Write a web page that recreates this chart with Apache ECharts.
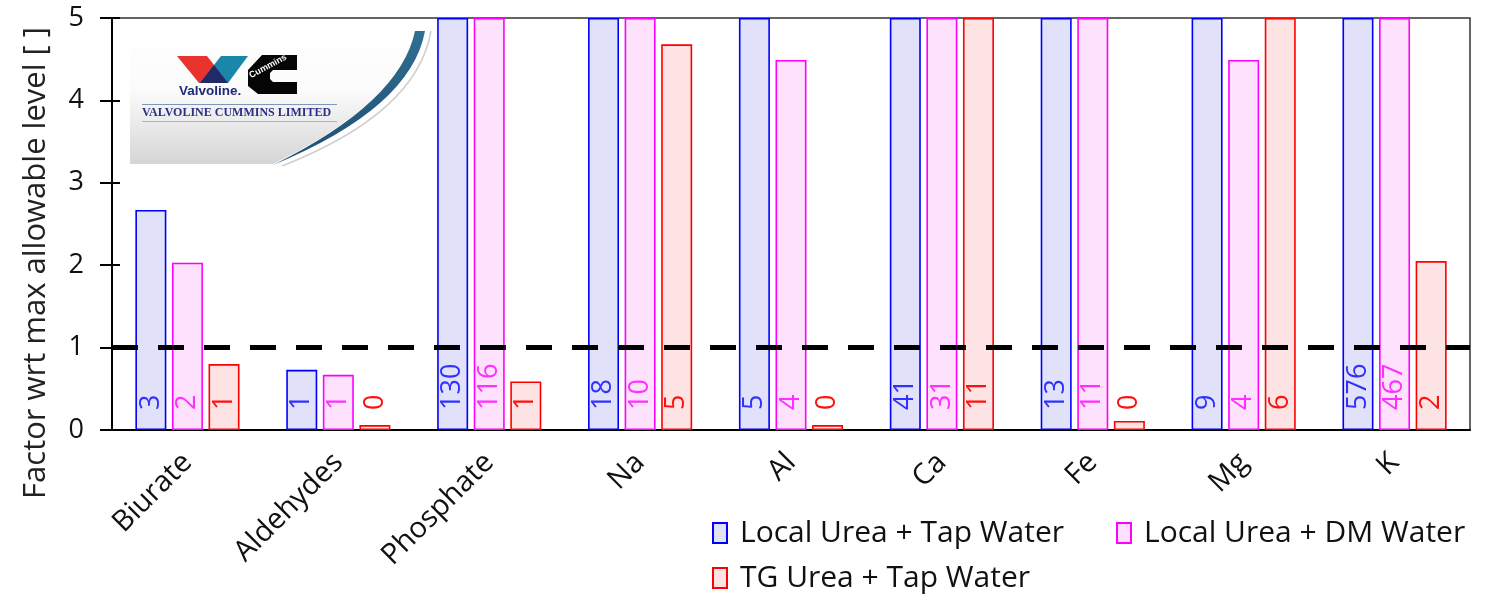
<!DOCTYPE html>
<html>
<head>
<meta charset="utf-8">
<script src="https://cdn.jsdelivr.net/npm/echarts@6/dist/echarts.min.js"></script>
<style>html,body{margin:0;padding:0;background:#fff}#c{width:1489px;height:594px}</style>
</head>
<body>
<div id="c"></div>
<script>
// ---- data ----
var categories = ['Biurate', 'Aldehydes', 'Phosphate', 'Na', 'Al', 'Ca', 'Fe', 'Mg', 'K'];
var seriesNames = ['Local Urea + Tap Water', 'Local Urea + DM Water', 'TG Urea + Tap Water'];
// factor wrt max allowable level (bars clipped at the axis max of 5)
var localTap = [2.67, 0.73, 5, 5, 5, 5, 5, 5, 5];
var localDM  = [2.03, 0.67, 5, 5, 4.49, 5, 5, 4.49, 5];
var tgTap    = [0.80, 0.06, 0.59, 4.68, 0.06, 5, 0.11, 5, 2.05];
// value labels printed inside the bars
var localTapLabels = ['3', '1', '130', '18', '5', '41', '13', '9', '576'];
var localDMLabels  = ['2', '1', '116', '10', '4', '31', '11', '4', '467'];
var tgTapLabels    = ['1', '0', '1', '5', '0', '11', '0', '6', '2'];
var yMin = 0, yMax = 5, yInterval = 1;
var limitLevel = 1;
var yTitle = 'Factor wrt max allowable level [ ]';

var FONT = 'Open Sans';

// logo shapes
echarts.graphic.registerShape('logoBg', echarts.graphic.extendPath('M130,30 L415,30 Q400,102.5 273,164 L130,164 Z', {}));
echarts.graphic.registerShape('logoSwoosh', echarts.graphic.extendPath('M415,31 L425,31 Q411,108 273,165 Q400,102.5 415,31 Z', {}));
echarts.graphic.registerShape('logoArc', echarts.graphic.extendPath('M431,31 Q417,113 282,166', {}));
echarts.graphic.registerShape('logoC', echarts.graphic.extendPath('M248,70 L262,55 L297,55 L297,70 L273,70 L270,73 L270,79 L273,82 L297,82 L297,94 L258,94 L248,86 Z', {}));

var chart = echarts.init(document.getElementById('c'), null, {renderer: 'canvas'});

function barSeries(name, data, labels, fill, stroke, labelColor, withLimit) {
  var s = {
    name: name,
    type: 'bar',
    data: data,
    barWidth: 31,
    barGap: '18%',
    itemStyle: {color: fill, borderColor: stroke, borderWidth: 1.6},
    label: {
      show: true,
      position: 'insideBottom',
      distance: 20,
      rotate: 90,
      align: 'left',
      verticalAlign: 'middle',
      color: labelColor,
      fontFamily: FONT,
      fontSize: 27,
      formatter: function (p) { return labels[p.dataIndex]; }
    }
  };
  if (withLimit) {
    s.markLine = {
      silent: true,
      symbol: 'none',
      label: {show: false},
      lineStyle: {color: '#000', width: 5, type: [26, 20]},
      data: [{yAxis: limitLevel}],
      z: 10
    };
  }
  return s;
}

var option = {
  backgroundColor: '#fff',
  animation: false,
  grid: {left: 112, right: 19, top: 18, bottom: 164, show: true, borderColor: '#333', borderWidth: 1.5,
         containLabel: false, outerBoundsMode: 'none'},
  xAxis: {
    type: 'category',
    data: categories,
    axisLine: {lineStyle: {color: '#000', width: 2}},
    axisTick: {show: false},
    axisLabel: {rotate: 45, margin: 28, color: '#111', fontFamily: FONT, fontSize: 29}
  },
  yAxis: [{
    type: 'value',
    min: yMin, max: yMax, interval: yInterval,
    axisLine: {show: true, lineStyle: {color: '#000', width: 2}},
    axisTick: {show: true, length: 12, lineStyle: {color: '#000', width: 2}},
    axisLabel: {margin: 28, color: '#111', fontFamily: FONT, fontSize: 27},
    splitLine: {show: false}
  }, {
    type: 'value',
    position: 'left',
    min: yMin, max: yMax, interval: yInterval,
    axisLine: {show: false},
    axisTick: {show: true, inside: true, length: 8, lineStyle: {color: '#000', width: 2}},
    axisLabel: {show: false},
    splitLine: {show: false}
  }],
  legend: [{
    data: [seriesNames[0], seriesNames[1]],
    left: 707, top: 513,
    icon: 'rect', itemWidth: 14, itemHeight: 20, itemGap: 52,
    textStyle: {color: '#111', fontFamily: FONT, fontSize: 30, padding: [0, 0, 0, 8]}
  }, {
    data: [seriesNames[2]],
    left: 707, top: 558,
    icon: 'rect', itemWidth: 14, itemHeight: 20,
    textStyle: {color: '#111', fontFamily: FONT, fontSize: 30, padding: [0, 0, 0, 8]}
  }],
  series: [
    barSeries(seriesNames[0], localTap, localTapLabels, '#e1e1f9', '#0000ff', '#3030ff', true),
    barSeries(seriesNames[1], localDM, localDMLabels, '#fde1fd', '#ff00ff', '#ff30ff', false),
    barSeries(seriesNames[2], tgTap, tgTapLabels, '#fde3e3', '#ff0000', '#ff1010', false)
  ],
  graphic: [
    {type: 'text', z: 60, x: 36, y: 263, rotation: Math.PI / 2,
     style: {text: yTitle, fill: '#222', font: '31px "Open Sans"', align: 'center', verticalAlign: 'middle'}},
    {type: 'logoBg', z: 50,
     style: {fill: new echarts.graphic.LinearGradient(0, 0, 0, 1, [
       {offset: 0, color: '#ffffff'}, {offset: 0.45, color: '#fbfbfb'}, {offset: 1, color: '#d5d5d5'}])}},
    {type: 'logoSwoosh', z: 51,
     style: {fill: new echarts.graphic.LinearGradient(0, 0, 0, 1, [
       {offset: 0, color: '#2f6f92'}, {offset: 1, color: '#1f4e73'}])}},
    {type: 'logoArc', z: 51, style: {fill: null, stroke: '#d0d0d0', lineWidth: 1.5}},
    {type: 'polygon', z: 52, shape: {points: [[177, 56], [207, 56], [228, 83], [199, 83]]}, style: {fill: '#e8322c'}},
    {type: 'polygon', z: 53, shape: {points: [[221, 56], [248, 56], [228, 83], [200, 83]]}, style: {fill: '#1a86a8'}},
    {type: 'polygon', z: 54, shape: {points: [[214, 65], [228, 83], [200, 83]]}, style: {fill: '#1f2a66'}},
    {type: 'text', z: 54, x: 179, y: 84, style: {text: 'Valvoline.', fill: '#1f2a78', font: 'bold 13.5px "Liberation Sans"'}},
    {type: 'logoC', z: 52, style: {fill: '#050505'}},
    {type: 'text', z: 55, x: 252, y: 80, rotation: 0.49, style: {text: 'Cummins', fill: '#ffffff', font: 'bold 9px "Liberation Sans"', verticalAlign: 'bottom'}},
    {type: 'line', z: 52, shape: {x1: 142, y1: 104.5, x2: 337, y2: 104.5}, style: {stroke: '#7f97b0', lineWidth: 1}},
    {type: 'line', z: 52, shape: {x1: 142, y1: 121.5, x2: 337, y2: 121.5}, style: {stroke: '#a7b7c8', lineWidth: 1}},
    {type: 'text', z: 52, x: 142, y: 107, style: {text: 'VALVOLINE CUMMINS LIMITED', fill: '#2b2f86', font: 'bold 12px "Liberation Serif"'}}
  ]
};
chart.setOption(option);
</script>
</body>
</html>
